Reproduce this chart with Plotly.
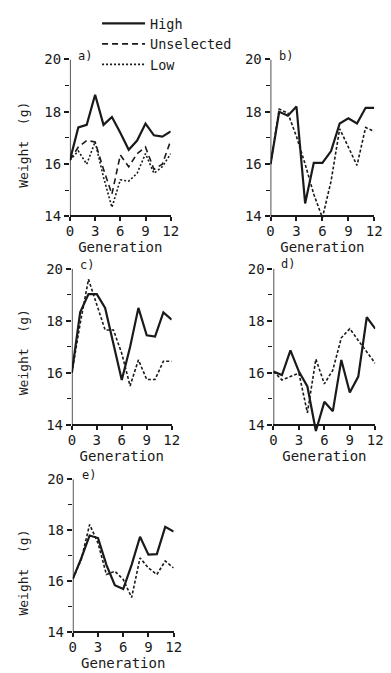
import plotly.graph_objects as go

W, H = 391, 673
gens = list(range(13))

# Panel a (three lines)
a_high = [16.15, 17.4, 17.5, 18.65, 17.5, 17.8, 17.2, 16.55, 16.9, 17.55, 17.1, 17.05, 17.25]
a_unsel = [16.15, 16.65, 16.9, 16.85, 15.8, 14.85, 16.35, 15.9, 16.4, 16.65, 15.8, 16.0, 16.9]
a_low = [16.15, 16.5, 16.0, 16.85, 15.5, 14.35, 15.4, 15.35, 15.65, 16.4, 15.65, 15.9, 16.4]
# Panels b-e (two lines)
b_high = [16.0, 18.0, 17.85, 18.2, 14.5, 16.05, 16.05, 16.5, 17.55, 17.75, 17.55, 18.15, 18.15]
b_low = [16.0, 18.1, 17.95, 17.05, 16.0, 14.85, 13.95, 15.35, 17.35, 16.65, 15.95, 17.4, 17.25]
c_high = [16.0, 18.33, 19.03, 19.03, 18.5, 17.1, 15.73, 17.0, 18.5, 17.45, 17.4, 18.33, 18.05]
c_low = [16.0, 17.9, 19.6, 18.65, 17.65, 17.65, 16.75, 15.5, 16.5, 15.75, 15.75, 16.45, 16.45]
d_high = [16.05, 15.92, 16.87, 16.05, 15.48, 13.77, 14.89, 14.53, 16.5, 15.25, 15.86, 18.14, 17.7]
d_low = [16.05, 15.73, 15.86, 15.99, 14.47, 16.53, 15.58, 16.11, 17.35, 17.7, 17.25, 16.8, 16.37]
e_high = [16.1, 16.9, 17.8, 17.7, 16.65, 15.85, 15.7, 16.65, 17.75, 17.05, 17.07, 18.14, 17.95]
e_low = [16.1, 16.85, 18.23, 17.5, 16.27, 16.4, 16.08, 15.37, 16.92, 16.53, 16.27, 16.8, 16.53]

panel_labels = ["a)", "b)", "c)", "d)", "e)"]
x_ticks = [0, 3, 6, 9, 12]
y_ticks = [14, 16, 18, 20]
y_minor = [15, 17, 19]

# panel boxes in pixels: (x0, x1, y at 14, y at 20)
boxes = [(68, 172, 211, 52), (275, 382, 211, 52),
         (70, 173, 422, 264), (278, 383, 422, 264),
         (71, 175, 632, 477)]
# panel label positions in pixels (left, middle)
label_pos = [(74, 49), (282, 49), (76, 260), (284, 259), (78, 473)]
YMIN = 13.5

INK = "#1a1a1a"
FONT = "DejaVu Sans Mono"

fig = go.Figure()
layout = dict(width=W, height=H, margin=dict(l=0, r=0, t=0, b=0),
              paper_bgcolor="white", plot_bgcolor="white", showlegend=True,
              font=dict(family=FONT, color=INK, size=13))
shapes, annotations = [], []

series = [
    [("High", a_high, "solid", 2.2), ("Unselected", a_unsel, "6px,4px", 1.6), ("Low", a_low, "2px,2px", 1.6)],
    [("High", b_high, "solid", 2.2), ("Low", b_low, "3px,2px", 1.6)],
    [("High", c_high, "solid", 2.2), ("Low", c_low, "3px,2px", 1.6)],
    [("High", d_high, "solid", 2.2), ("Low", d_low, "3px,2px", 1.6)],
    [("High", e_high, "solid", 2.2), ("Low", e_low, "3px,2px", 1.6)],
]

for i, (box, sers) in enumerate(zip(boxes, series)):
    n = i + 1
    xs = "" if n == 1 else str(n)
    x0, x1, p14, p20 = box
    y14 = (H - p14) / H
    y20 = (H - p20) / H
    ybot = y14 - (14 - YMIN) * (y20 - y14) / 6
    layout["xaxis" + xs] = dict(domain=[x0 / W, x1 / W], range=[0, 12], anchor="free", position=y14,
                                tickvals=x_ticks, ticks="outside", ticklen=4, tickwidth=1.5,
                                tickcolor=INK, showline=True, linecolor=INK, linewidth=1.5,
                                showgrid=False, zeroline=False, fixedrange=True,
                                ticklabelstandoff=-2,
                                tickfont=dict(size=14, family=FONT),
                                title=dict(text="Generation", font=dict(size=14, family=FONT), standoff=0))
    layout["yaxis" + xs] = dict(domain=[ybot, y20], range=[YMIN, 20], anchor="x" + xs,
                                tickvals=y_ticks, ticks="outside", ticklen=5, tickwidth=1.5,
                                tickcolor=INK, showline=False, showgrid=False, zeroline=False,
                                minor=dict(tickvals=y_minor, ticks="outside", ticklen=4, tickcolor=INK, tickwidth=1.2),
                                tickfont=dict(size=14, family=FONT), fixedrange=True)
    shapes.append(dict(type="line", xref="x" + xs, yref="y" + xs, x0=0, x1=0, y0=14, y1=20,
                       line=dict(color=INK, width=1.5)))
    lx, ly = label_pos[i]
    annotations.append(dict(text=panel_labels[i], xref="paper", yref="paper", x=lx / W, y=(H - ly) / H,
                            xanchor="left", yanchor="middle", showarrow=False,
                            font=dict(size=12, family=FONT, color=INK)))
    for name, vals, dash, w in sers:
        fig.add_trace(go.Scatter(x=gens, y=vals, mode="lines", name=name,
                                 line=dict(color=INK, width=w, dash=dash),
                                 xaxis="x" + xs, yaxis="y" + xs, showlegend=(n == 1)))

for py in (138, 348, 571):
    annotations.append(dict(text="Weight  (g)", xref="paper", yref="paper", x=20 / W, y=(H - py) / H,
                            textangle=-90, showarrow=False, xanchor="center", yanchor="middle",
                            font=dict(size=13, family=FONT, color=INK)))

layout["legend"] = dict(x=96 / W, y=1.0, xanchor="left", yanchor="top",
                        bgcolor="rgba(0,0,0,0)", font=dict(size=13.5, family=FONT, color=INK),
                        itemwidth=43, tracegroupgap=0)
layout["shapes"] = shapes
layout["annotations"] = annotations
fig.update_layout(**layout)
fig.write_html("out.html")
